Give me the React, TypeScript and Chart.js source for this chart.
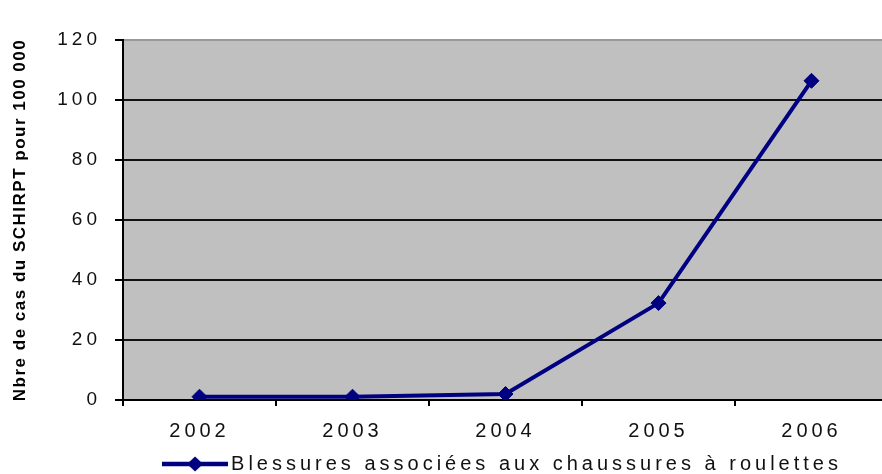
import React, { useEffect, useRef } from "react";
import { Chart, registerables } from "chart.js";

Chart.register(...registerables);

const years: string[] = ["2002", "2003", "2004", "2005", "2006"];
const injuries: number[] = [1.1, 1.1, 2.0, 32.3, 106.4];
const seriesLabel = "Blessures associées aux chaussures à roulettes";
const yAxisTitle = "Nbre de cas du SCHIRPT pour 100 000";
const yMin = 0;
const yMax = 120;
const yStep = 20;

const FONT = "'Liberation Sans', Arial, sans-serif";
const NAVY = "#000080";

function makeMarker(): HTMLCanvasElement {
  const c = document.createElement("canvas");
  c.width = 66;
  c.height = 18;
  const g = c.getContext("2d")!;
  g.strokeStyle = NAVY;
  g.lineWidth = 4.5;
  g.beginPath();
  g.moveTo(0, 9);
  g.lineTo(66, 9);
  g.stroke();
  g.fillStyle = NAVY;
  g.beginPath();
  g.moveTo(33 - 8, 9);
  g.lineTo(33, 1.5);
  g.lineTo(33 + 8, 9);
  g.lineTo(33, 16.5);
  g.closePath();
  g.fill();
  return c;
}

const stylePlugin = {
  id: "styleTweaks",
  beforeLayout(chart: any) {
    chart.ctx.letterSpacing = "4px";
  },
  beforeDraw(chart: any) {
    const ctx = chart.ctx;
    ctx.letterSpacing = "4px";
    const ys: any = chart.scales.y;
    if (ys && !ys.__patched) {
      const orig = ys.drawTitle.bind(ys);
      ys.drawTitle = () => {
        const prev = ctx.letterSpacing;
        ctx.letterSpacing = "1.5px";
        orig();
        ctx.letterSpacing = prev;
      };
      ys.__patched = true;
    }
    const { left, top, width, height } = chart.chartArea;
    ctx.save();
    ctx.fillStyle = "#c0c0c0";
    ctx.fillRect(left, top, width, height);
    ctx.restore();
  },
};

export default function App() {
  const ref = useRef<HTMLCanvasElement | null>(null);

  useEffect(() => {
    if (!ref.current) return;
    const marker = makeMarker();
    const chart = new Chart(ref.current, {
      type: "line",
      data: {
        labels: years,
        datasets: [
          {
            label: seriesLabel,
            data: injuries,
            borderColor: NAVY,
            backgroundColor: NAVY,
            borderWidth: 4,
            pointStyle: "rectRot",
            pointRadius: 7.5,
            pointBackgroundColor: NAVY,
            pointBorderColor: NAVY,
            pointBorderWidth: 1,
            tension: 0,
          },
        ],
      },
      options: {
        animation: false,
        responsive: true,
        maintainAspectRatio: false,
        layout: { padding: { left: 0, right: 12, top: 40, bottom: 0 } },
        plugins: {
          tooltip: { enabled: false },
          legend: {
            display: true,
            position: "bottom",
            fullSize: false,
            labels: {
              usePointStyle: true,
              pointStyle: marker as any,
              pointStyleWidth: 52,
              padding: 10,
              color: "#111",
              font: { family: FONT, size: 20 },
            },
          },
        },
        scales: {
          x: {
            type: "category",
            offset: true,
            grid: {
              display: true,
              offset: true,
              drawOnChartArea: false,
              drawTicks: true,
              tickLength: 6,
              color: "#000",
              lineWidth: 2,
            },
            border: { display: true, color: "#000", width: 2 },
            ticks: {
              color: "#111",
              font: { family: FONT, size: 20 },
              padding: 13,
              maxRotation: 0,
              autoSkip: false,
            },
            afterFit: (s: any) => {
              s.height = 44;
            },
          },
          y: {
            min: yMin,
            max: yMax,
            ticks: {
              stepSize: yStep,
              color: "#111",
              font: { family: FONT, size: 19 },
              padding: 14,
            },
            grid: {
              color: (c: any) => (c.tick && c.tick.value === yMax ? "#999" : "#111"),
              tickColor: "#000",
              lineWidth: 2,
              tickLength: 8,
            },
            border: { display: true, color: "#000", width: 2 },
            title: {
              display: true,
              text: yAxisTitle,
              color: "#000",
              font: { family: FONT, size: 17, weight: "bold" },
              padding: { top: 10, bottom: 0 },
            },
            afterFit: (s: any) => {
              s.width = 123;
            },
          },
        },
      },
      plugins: [stylePlugin],
    });
    return () => chart.destroy();
  }, []);

  return (
    <div
      style={{
        position: "fixed",
        left: 0,
        top: 0,
        width: 882,
        height: 474,
        overflow: "hidden",
        background: "#fff",
      }}
    >
      <div style={{ position: "relative", width: 900, height: 484 }}>
        <canvas ref={ref} />
      </div>
    </div>
  );
}
